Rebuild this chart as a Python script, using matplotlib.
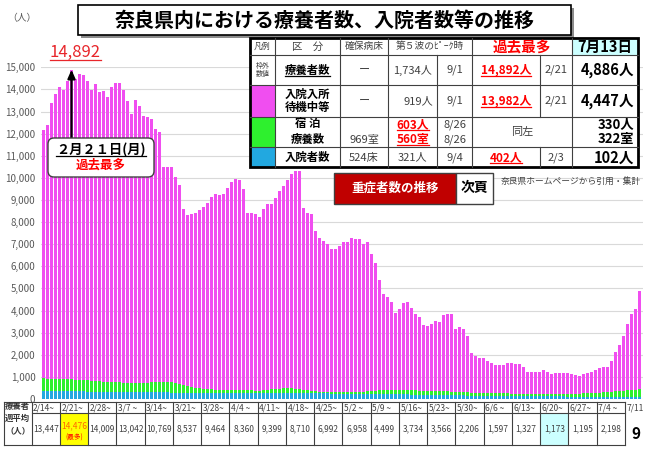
import matplotlib.pyplot as plt
from matplotlib.patches import Rectangle, FancyBboxPatch
import numpy as np

plt.rcParams['font.family'] = ['Noto Sans CJK JP', 'DejaVu Sans']

# daily values 2/14 - 7/13
total = [12170, 12370, 13400, 13770, 14110, 13960, 14360,
         14892, 14490, 14680, 14640, 14370, 13990, 14240,
         13880, 13920, 13670, 14100, 14300, 14300, 13970,
         13460, 12870, 13520, 13250, 12790, 12760, 12640,
         12220, 12070, 10500, 10490, 10510, 10020, 9700,
         8570, 8310, 8350, 8420, 8540, 8680, 8870,
         9130, 9280, 9230, 9280, 9550, 9810, 9960,
         9900, 9510, 8420, 8390, 8370, 8220, 8570,
         8800, 8830, 9080, 9390, 9630, 9900, 10160,
         10310, 10300, 8650, 8420, 8350, 7590, 7290,
         7140, 7030, 6790, 6790, 6940, 7090, 7110,
         7290, 7250, 7250, 7030, 7110, 6570, 6160,
         5400, 4770, 4620, 4380, 3870, 4080, 4320,
         4380, 4120, 3860, 3700, 3350, 3290, 3390,
         3520, 3470, 3790, 3860, 3830, 3170, 3250,
         3150, 2840, 2060, 1930, 1860, 1860, 1740,
         1630, 1560, 1530, 1560, 1620, 1620, 1600,
         1590, 1450, 1240, 1240, 1230, 1230, 1290,
         1240, 1140, 1170, 1180, 1180, 1170, 1150,
         1090, 1060, 1120, 1170, 1240, 1330, 1410,
         1440, 1450, 1740, 2120, 2460, 2870, 3370,
         3850, 4050, 4886]

hotel = [563, 556, 549, 549, 545, 541, 541,
         540, 533, 523, 515, 504, 494, 484,
         471, 458, 447, 438, 436, 431, 426,
         425, 420, 411, 403, 421, 442, 465,
         486, 492, 490, 476, 462, 430, 375,
         331, 293, 258, 230, 195, 166, 158,
         147, 144, 138, 135, 130, 129, 126,
         122, 117, 114, 109, 100, 105, 122,
         141, 163, 173, 190, 205, 212, 210,
         203, 184, 142, 123, 106, 87, 76,
         68, 62, 56, 54, 55, 58, 62,
         66, 72, 82, 99, 115, 133, 149,
         167, 178, 187, 192, 198, 200, 202,
         201, 200, 194, 188, 178, 172, 166,
         166, 165, 167, 166, 165, 160, 156,
         148, 142, 134, 130, 126, 126, 126,
         123, 121, 117, 117, 116, 117, 116,
         118, 118, 120, 120, 122, 121, 122,
         122, 124, 124, 127, 128, 131, 132,
         135, 138, 144, 150, 159, 169, 181,
         194, 209, 225, 243, 259, 279, 296,
         311, 320, 330]

hospital = [372, 369, 366, 361, 360, 357, 352,
            350, 347, 345, 340, 338, 336, 331,
            329, 327, 323, 322, 319, 317, 316,
            313, 310, 309, 307, 304, 303, 300,
            299, 298, 295, 294, 293, 290, 290,
            289, 287, 287, 285, 285, 284, 282,
            283, 281, 282, 280, 280, 279, 279,
            278, 278, 276, 276, 275, 275, 273,
            274, 272, 272, 270, 270, 268, 268,
            267, 266, 263, 262, 259, 258, 254,
            252, 251, 247, 246, 243, 242, 239,
            238, 235, 234, 231, 230, 227, 226,
            223, 222, 218, 216, 212, 210, 206,
            204, 200, 198, 194, 192, 188, 186,
            182, 180, 176, 174, 170, 168, 164,
            162, 158, 156, 152, 150, 146, 144,
            142, 139, 138, 135, 134, 131, 130,
            127, 126, 123, 122, 120, 120, 118,
            118, 116, 116, 114, 114, 112, 112,
            110, 110, 108, 108, 106, 106, 104,
            104, 103, 103, 102, 103, 101, 102,
            101, 102, 102]

week_labels = ['2/14~', '2/21~', '2/28~', '3/7 ~', '3/14~', '3/21~', '3/28~',
               '4/4 ~', '4/11~', '4/18~', '4/25~', '5/2 ~', '5/9 ~', '5/16~',
               '5/23~', '5/30~', '6/6 ~', '6/13~', '6/20~', '6/27~', '7/4 ~']
week_avg = [13447, 14476, 14009, 13042, 10769, 8537, 9464, 8360, 9399, 8710,
            6992, 6958, 4499, 3734, 3566, 2206, 1597, 1327, 1173, 1195, 2198]

PINK = '#F04EF0'
GREEN = '#2EF02E'
BLUE = '#22A8E0'
LINE = '#404040'

W, H = 650, 449
fig = plt.figure(figsize=(W / 100, H / 100), dpi=100)

# main bar chart
ax = fig.add_axes([41 / W, 1 - 399 / H, 602 / W, 331.7 / H])
x = np.arange(len(total))
tot = np.array(total)
ho = np.array(hotel)
hs = np.array(hospital)
pink = tot - ho - hs
bw = 0.75
ax.bar(x, hs, width=bw, color=BLUE, zorder=2)
ax.bar(x, ho, bottom=hs, width=bw, color=GREEN, zorder=2)
ax.bar(x, pink, bottom=hs + ho, width=bw, color=PINK, zorder=2)
ax.set_xlim(-0.625, 149.875)
ax.set_ylim(0, 15000)
ticks = list(range(0, 15001, 1000))
ax.set_yticks(ticks)
ax.set_yticklabels([f'{v:,}' for v in ticks])
ax.tick_params(axis='y', length=0, pad=4, labelsize=7, labelcolor='#595959')
ax.set_xticks([])
for s in ax.spines.values():
    s.set_visible(False)
ax.yaxis.grid(True, color='#D9D9D9', lw=0.8)
ax.set_axisbelow(True)

# arrow to the peak
peak = int(np.argmax(tot))
ax.annotate('', xy=(peak, tot[peak]), xytext=(peak, 11800),
            arrowprops=dict(arrowstyle='-|>,head_width=0.22,head_length=0.5',
                            color='black', lw=1.6, shrinkA=0, shrinkB=0))

# overlay in pixel coordinates
ov = fig.add_axes([0, 0, 1, 1])
ov.set_xlim(0, W)
ov.set_ylim(H, 0)
ov.axis('off')

underlined = []


def utext(x0, y0, s, **kw):
    t = ov.text(x0, y0, s, **kw)
    underlined.append(t)
    return t


ov.text(22, 18, '（人）', ha='center', va='center', fontsize=7, color='#595959')

# title
ov.add_patch(Rectangle((81, 8), 493, 30, facecolor='#8C8C8C', edgecolor='none'))
ov.add_patch(Rectangle((78, 5), 493, 30, facecolor='white', edgecolor='black', lw=1.2))
ov.text(325, 20.5, '奈良県内における療養者数、入院者数等の推移', ha='center', va='center',
        fontsize=14.4, fontweight='bold')

utext(75, 52, '14,892', ha='center', va='center', fontsize=12, color='#E8262B')

# callout
ov.add_patch(FancyBboxPatch((48, 138), 106, 39, boxstyle='round,pad=0,rounding_size=6',
                            facecolor='white', edgecolor=LINE, lw=1))
utext(101, 149.5, '２月２１日(月)', ha='center', va='center', fontsize=9.5, fontweight='bold')
ov.text(101, 165.5, '過去最多', ha='center', va='center', fontsize=9, fontweight='bold', color='#FF0000')

# summary table (top right)
ov.add_patch(Rectangle((250, 38), 388, 129, facecolor='white', edgecolor='none'))
ov.add_patch(Rectangle((572, 38), 66, 17, facecolor='#CCFFFF', edgecolor='none'))
ov.add_patch(Rectangle((250, 85), 25, 32, facecolor=PINK, edgecolor='none'))
ov.add_patch(Rectangle((250, 117), 25, 30, facecolor=GREEN, edgecolor='none'))
ov.add_patch(Rectangle((250, 147), 25, 20, facecolor=BLUE, edgecolor='none'))
for yv in [55, 85, 117, 147]:
    ov.plot([250, 638], [yv, yv], color=LINE, lw=0.8)
for xv in [275, 340, 388, 472, 572]:
    ov.plot([xv, xv], [38, 167], color=LINE, lw=0.8)
ov.plot([437, 437], [55, 167], color=LINE, lw=0.8)
ov.plot([540, 540], [55, 117], color=LINE, lw=0.8)
ov.plot([540, 540], [147, 167], color=LINE, lw=0.8)
ov.add_patch(Rectangle((250, 38), 388, 129, facecolor='none', edgecolor='black', lw=2))

reg = dict(ha='center', va='center', fontsize=8, color=LINE)
bold = dict(ha='center', va='center', fontsize=8.2, fontweight='bold', color='black')
red = dict(ha='center', va='center', fontsize=8.5, fontweight='bold', color='#FF0000')
big = dict(ha='right', va='center', fontsize=10.5, fontweight='bold', color='black')
mid_big = dict(ha='right', va='center', fontsize=9.5, fontweight='bold', color='black')

ov.text(262.5, 46.5, '凡例', ha='center', va='center', fontsize=6, color=LINE)
ov.text(307.5, 46.5, '区　分', ha='center', va='center', fontsize=7.5, color=LINE)
ov.text(364, 46.5, '確保病床', ha='center', va='center', fontsize=7, color=LINE)
ov.text(430, 46.5, '第５波のﾋﾟｰｸ時', ha='center', va='center', fontsize=7, color=LINE)
ov.text(522, 46.5, '過去最多', ha='center', va='center', fontsize=10.5, fontweight='bold', color='#FF0000')
ov.text(605, 46.5, '7月13日', ha='center', va='center', fontsize=10.5, fontweight='bold')

ov.text(262.5, 70, '枠外\n数値', ha='center', va='center', fontsize=5, color=LINE, linespacing=1.1)
utext(307.5, 70, '療養者数', **bold)
ov.text(364, 70, 'ー', **reg)
ov.text(412.5, 70, '1,734人', **reg)
ov.text(454.5, 70, '9/1', **reg)
utext(506, 70, '14,892人', **red)
ov.text(556, 70, '2/21', **reg)
ov.text(634, 70, '4,886人', **big)

ov.text(307.5, 101, '入院入所\n待機中等', linespacing=1.05, **bold)
ov.text(364, 101, 'ー', **reg)
ov.text(418, 101, '919人', **reg)
ov.text(454.5, 101, '9/1', **reg)
utext(506, 101, '13,982人', **red)
ov.text(556, 101, '2/21', **reg)
ov.text(634, 101, '4,447人', **big)

ov.text(307.5, 124, '宿 泊', **bold)
ov.text(307.5, 139, '療養数', **bold)
ov.text(364, 139.5, '969室', **reg)
utext(413, 124.5, '603人', **red)
utext(413, 139.5, '560室', **red)
ov.text(454.5, 124.5, '8/26', **reg)
ov.text(454.5, 139.5, '8/26', **reg)
ov.text(522, 132, '同左', **reg)
ov.text(634, 124.5, '330人', **mid_big)
ov.text(634, 139.5, '322室', **mid_big)

ov.text(307.5, 157.5, '入院者数', **bold)
ov.text(364, 157.5, '524床', **reg)
ov.text(412, 157.5, '321人', **reg)
ov.text(454.5, 157.5, '9/4', **reg)
utext(506, 157.5, '402人', **red)
ov.text(556, 157.5, '2/3', **reg)
ov.text(634, 157.5, '102人', **big)

# next page buttons and source
ov.add_patch(Rectangle((334, 173), 122, 31, facecolor='#C00000', edgecolor=LINE, lw=1))
ov.text(395, 188.5, '重症者数の推移', ha='center', va='center', fontsize=9, fontweight='bold', color='white')
ov.add_patch(Rectangle((456, 173), 37, 31, facecolor='white', edgecolor=LINE, lw=1))
ov.text(474.5, 188.5, '次頁', ha='center', va='center', fontsize=10, fontweight='bold')
ov.text(570.5, 181.5, '奈良県ホームページから引用・集計', ha='center', va='center', fontsize=6.3, color=LINE)

# weekly average table (bottom)
cw = 28.25
c0 = 31.7
top, mid, bot = 402.3, 413.3, 445
ov.add_patch(Rectangle((4, top), c0 + cw * len(week_labels) - 4, bot - top, facecolor='white', edgecolor='none'))
ov.add_patch(Rectangle((c0 + cw * 1, mid), cw, bot - mid, facecolor='#FFFF00', edgecolor='none'))
ov.add_patch(Rectangle((c0 + cw * 18, mid), cw, bot - mid, facecolor='#CCFFFF', edgecolor='none'))
right = c0 + cw * len(week_labels)
ov.plot([4, right], [top, top], color=LINE, lw=0.8)
ov.plot([4, right], [bot, bot], color=LINE, lw=0.8)
ov.plot([c0, right], [mid, mid], color=LINE, lw=0.8)
ov.plot([4, 4], [top, bot], color=LINE, lw=0.8)
for k in range(len(week_labels) + 1):
    xv = c0 + cw * k
    ov.plot([xv, xv], [top, bot], color=LINE, lw=0.8)

ov.text(17.8, 406.5, '療養者', ha='center', va='center', fontsize=6, fontweight='bold', color='#333333')
ov.text(17.8, 418.5, '週平均', ha='center', va='center', fontsize=6, fontweight='bold', color='#333333')
ov.text(17.8, 431, '（人）', ha='center', va='center', fontsize=6, fontweight='bold', color='#333333')

for k, (lab, val) in enumerate(zip(week_labels, week_avg)):
    xl = c0 + cw * k
    ov.text(xl + 1.5, 408, lab, ha='left', va='center', fontsize=6, color=LINE)
    if k == 1:
        ov.text(xl + cw / 2, 426, f'{val:,}', ha='center', va='center', fontsize=6, color='#FF6600')
        ov.text(xl + cw / 2, 437.5, '(最多)', ha='center', va='center', fontsize=4.8, color='#FF0000')
    else:
        ov.text(xl + cw / 2, 429, f'{val:,}', ha='center', va='center', fontsize=6, color=LINE)
ov.text(right + 1.5, 408, '7/11', ha='left', va='center', fontsize=6, color=LINE)
ov.text(636, 434, '9', ha='center', va='center', fontsize=11, fontweight='bold')

# underlines
fig.canvas.draw()
rnd = fig.canvas.get_renderer()
inv = ov.transData.inverted()
for t in underlined:
    bb = t.get_window_extent(rnd)
    (x0, y0), (x1, y1) = inv.transform([[bb.x0, bb.y0], [bb.x1, bb.y1]])
    yb = max(y0, y1) - 1
    ov.plot([x0, x1], [yb, yb], color=t.get_color(), lw=0.9)

fig.savefig('out.png', dpi=100)
